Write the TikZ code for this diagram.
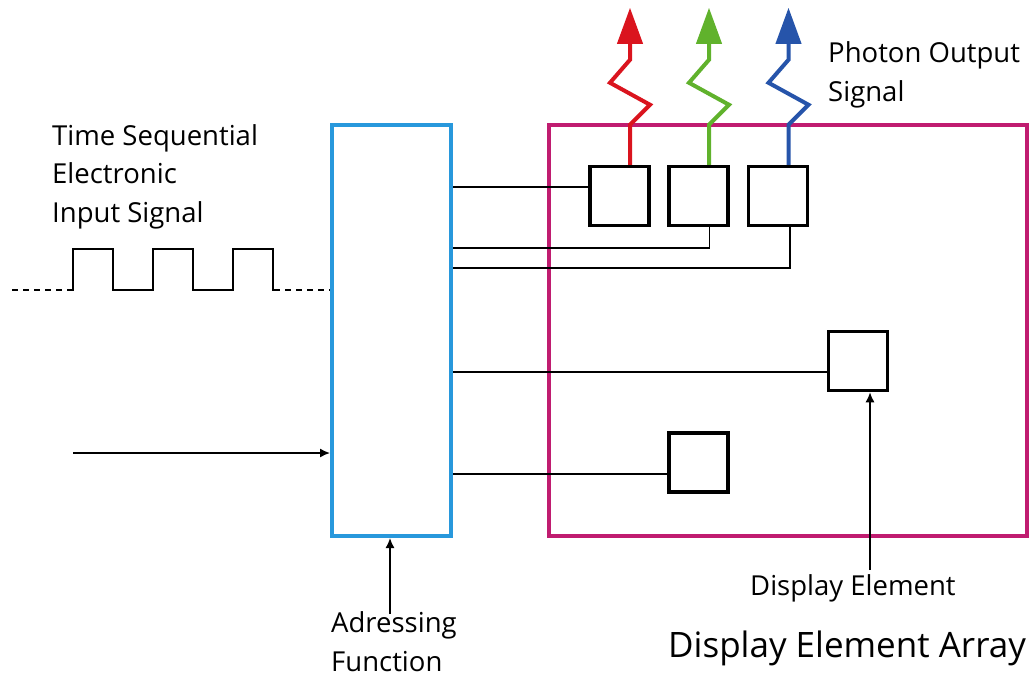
\documentclass[tikz,border=0pt]{standalone}
\usepackage{fontspec}
\setmainfont{Open Sans}
\usetikzlibrary{arrows.meta}
\definecolor{caddr}{RGB}{40,152,220}
\definecolor{carray}{RGB}{192,28,112}
\definecolor{cred}{RGB}{218,20,30}
\definecolor{cgreen}{RGB}{96,178,44}
\definecolor{cblue}{RGB}{38,84,170}
\tikzset{pix/.style={x=1pt,y=-1pt},
  frame/.style={draw,line width=4pt,inner sep=0pt},
  elem/.style={draw,line width=3.5pt,minimum size=59pt,inner sep=0pt},
  wire/.style={line width=1.5pt},
  photon/.style={line width=4pt,-{Triangle[length=36pt,width=25pt]}},
  ptr/.style={line width=1.5pt,-{Latex[length=10pt,width=9pt]}},
  lbl/.style={font=\fontsize{27.5}{38.5}\selectfont,align=left,inner sep=0pt}}

\begin{document}
\begin{tikzpicture}[pix]
    \useasboundingbox (0,0) rectangle (1033,678);
    % frames
    \node[frame,draw=caddr,minimum width=119pt,minimum height=411pt] (addr) at (391.5,330.5) {};
    \node[frame,draw=carray,minimum width=478pt,minimum height=411pt] (array) at (788,330.5) {};
    % display elements
    \node[elem] (e1) at (619.5,196) {};
    \node[elem] (e2) at (698.5,196) {};
    \node[elem] (e3) at (778,196) {};
    \node[elem] (e4) at (858,361) {};
    \node[elem] (e5) at (698.5,462.5) {};
    % wires to the elements
    \draw[wire] (addr.east |- 0,187) -- ([yshift=9pt]e1.west);
    \draw[wire] (addr.east |- 0,248) -| ([xshift=11pt]e2.south);
    \draw[wire] (addr.east |- 0,268) -| ([xshift=12pt]e3.south);
    \draw[wire] (addr.east |- 0,372) -- ([yshift=-11pt]e4.west);
    \draw[wire] (addr.east |- 0,474) -- ([yshift=-11.5pt]e5.west);
    % photon output
    \foreach \e/\c in {e1/cred,e2/cgreen,e3/cblue}
      \draw[photon,\c] ([xshift=10.5pt]\e.north) -- ++(0,-40) -- ++(20,-20) -- ++(-40,-22) -- ++(20,-23) -- ++(0,-52);
    % input signal
    \draw[wire,dashed,dash pattern=on 6pt off 5pt] (12,290) -- (72,290);
    \draw[wire] (72,290) \foreach \x in {73,153,233} {-- (\x,290) -- (\x,249) -- ({\x+40},249) -- ({\x+40},290)} -- (274,290);
    \draw[wire,dashed,dash pattern=on 6pt off 5pt] (274,290) -- (addr.west |- 0,290);
    \coordinate (in) at (73,453);
    \draw[ptr] (in) -- (addr.west |- in);
    \coordinate (adr) at (390,614);
    \draw[ptr] (adr) -- (adr |- addr.south);
    \coordinate (del) at (870,570);
    \draw[ptr] (del) -- (del |- e4.south);
    % labels
    \node[lbl,anchor=base west] (tsl) at (52,222) {Time Sequential\\Electronic\\Input Signal};
    \node[lbl,anchor=base west] (pos) at (828,101) {Photon Output\\Signal};
    \node[lbl,anchor=base west] (afl) at (331,671) {Adressing\\Function};
    \node[lbl,anchor=base west] (del) at (750,595) {Display Element};
    \node[lbl,anchor=base west,font=\fontsize{35}{40}\selectfont] (dea) at (668,657) {Display Element Array};
\end{tikzpicture}
\end{document}
